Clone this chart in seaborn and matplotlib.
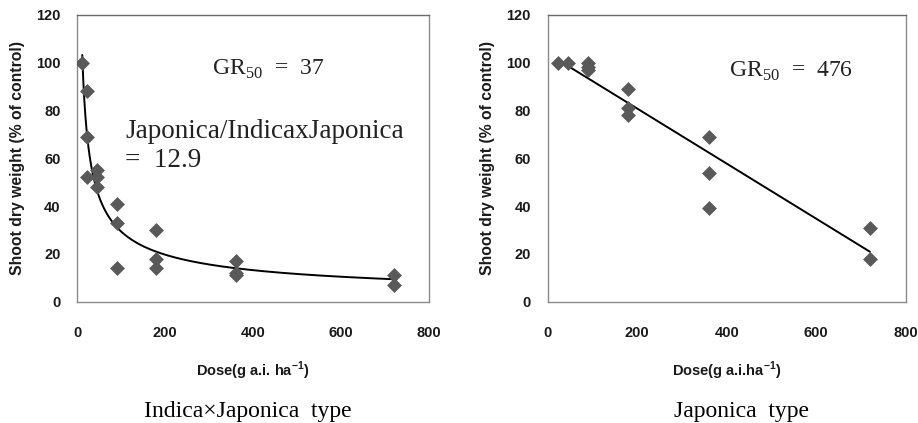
import numpy as np
import pandas as pd
import seaborn as sns
import matplotlib.pyplot as plt

# Indica x Japonica type
ij_dose = [11.25, 22.5, 22.5, 22.5, 45, 45, 45, 90, 90, 90, 180, 180, 180, 360, 360, 360, 720, 720]
ij_weight = [100, 88, 69, 52, 55, 52, 48, 41, 33, 14, 30, 18, 14, 17, 12, 11, 11, 7]

# Japonica type
j_dose = [22.5, 45, 90, 90, 90, 180, 180, 180, 360, 360, 360, 720, 720]
j_weight = [100, 100, 100, 98, 97, 89, 81, 78, 69, 54, 39, 31, 18]

ij_gr50 = 37
j_gr50 = 476
ratio = 12.9

x_ticks = [0, 200, 400, 600, 800]
y_ticks = [0, 20, 40, 60, 80, 100, 120]

sns.set_style("white")
plt.rcParams["font.family"] = ["Liberation Sans Narrow", "Liberation Sans", "DejaVu Sans"]

marker_col = "#595959"
spine_col = "#8a8a8a"
serif = ["Liberation Serif", "DejaVu Serif"]

fig = plt.figure(figsize=(9.18, 4.23), dpi=100)
ax1 = fig.add_axes([77.3 / 918, 1 - 301.7 / 423, 351.7 / 918, 287 / 423])
ax2 = fig.add_axes([547.7 / 918, 1 - 301.7 / 423, 358 / 918, 287 / 423])

df1 = pd.DataFrame({"dose": ij_dose, "weight": ij_weight})
df2 = pd.DataFrame({"dose": j_dose, "weight": j_weight})

# trendlines fitted on the dose means: power (left, log fit), linear (right)
mean1 = df1.groupby("dose")["weight"].mean()
b, loga = np.polyfit(np.log(mean1.index), np.log(mean1.values), 1, w=np.sqrt(mean1.values))
xs1 = np.linspace(df1["dose"].min(), df1["dose"].max(), 300)
fit1 = pd.DataFrame({"dose": xs1, "weight": np.exp(loga) * xs1 ** b})

mean2 = df2.groupby("dose")["weight"].mean()
m, c = np.polyfit(mean2.index, mean2.values, 1)
xs2 = np.linspace(df2["dose"].min(), df2["dose"].max(), 50)
fit2 = pd.DataFrame({"dose": xs2, "weight": m * xs2 + c})

for ax, df, fit, xlab in [(ax1, df1, fit1, "Dose(g a.i. ha$^{\\mathregular{-1}}$)"),
                          (ax2, df2, fit2, "Dose(g a.i.ha$^{\\mathregular{-1}}$)")]:
    sns.lineplot(data=fit, x="dose", y="weight", ax=ax, color="black", lw=1.4, zorder=2)
    sns.scatterplot(data=df, x="dose", y="weight", ax=ax, marker="D", s=50,
                    color=marker_col, edgecolor=marker_col, linewidth=0.5, zorder=3)
    ax.set_xlim(0, 800)
    ax.set_ylim(0, 120)
    ax.set_xticks(x_ticks)
    ax.set_yticks(y_ticks)
    ax.tick_params(axis="both", direction="out", length=3.6, width=0.8, color=spine_col,
                   labelsize=10.5)
    ax.tick_params(axis="x", pad=14)
    ax.tick_params(axis="y", pad=8.5)
    for lab in ax.get_xticklabels() + ax.get_yticklabels():
        lab.set_fontweight("bold")
        lab.set_color("#1a1a1a")
    for sp in ax.spines.values():
        sp.set_color(spine_col)
        sp.set_linewidth(1.0)
    ax.spines["top"].set_color("#6a6a6a")
    ax.set_xlabel(xlab, fontsize=10.5, fontweight="bold", color="#1a1a1a", labelpad=14)
    ax.set_ylabel("Shoot dry weight (% of control)", fontsize=11.3, fontweight="bold",
                  color="#1a1a1a", labelpad=8)

ax1.text(306, 97, "GR$_{\\mathregular{50}}$  =  %d" % ij_gr50, family=serif, fontsize=17,
         va="center", ha="left", color="#222222")
ax1.text(109, 71, "Japonica/IndicaxJaponica", family=serif, fontsize=19.5,
         va="center", ha="left", color="#222222")
ax1.text(109, 59.2, "=  %.1f" % ratio, family=serif, fontsize=19.5,
         va="center", ha="left", color="#222222")
ax2.text(405, 96.5, "GR$_{\\mathregular{50}}$  =  %d" % j_gr50, family=serif, fontsize=17,
         va="center", ha="left", color="#222222")

fig.text(248 / 918, 1 - 411 / 423, "Indica\u00d7Japonica  type", family=serif, fontsize=17,
         ha="center", va="center", color="black")
fig.text(741 / 918, 1 - 411 / 423, "Japonica  type", family=serif, fontsize=17,
         ha="center", va="center", color="black")

fig.savefig("out.png", dpi=100)
